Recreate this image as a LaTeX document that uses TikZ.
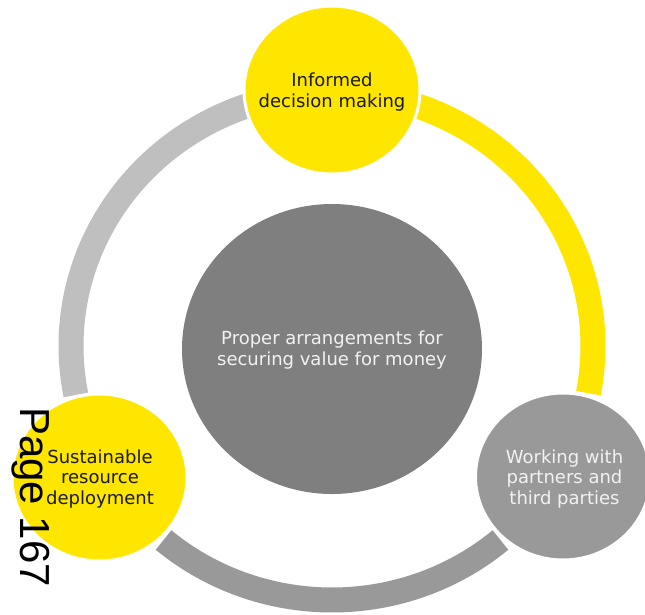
\documentclass[tikz,border=0pt]{standalone}
\usepackage{fontspec}
\setmainfont{DejaVu Sans}
\newfontfamily\pagefont{Liberation Sans}
\definecolor{eyyellow}{HTML}{FFE600}
\definecolor{lightgrey}{HTML}{BFBFBF}
\definecolor{midgrey}{HTML}{999999}
\definecolor{darkgrey}{HTML}{7F7F7F}
\definecolor{paletext}{HTML}{F2F2F2}
\definecolor{inktext}{HTML}{1A1A1A}
\tikzset{
  ringarc/.style={line width=25pt, line cap=butt},
  bubble/.style={draw=white, line width=3pt},
  label/.style={align=center, inner sep=0pt, font=\fontsize{18}{20.5}\selectfont},
}
\begin{document}
\begin{tikzpicture}[x=1pt,y=1pt]
\useasboundingbox (0,0) rectangle (645,-614);
\clip (0,0) rectangle (645,-614);
\coordinate (ring) at (332,-346);
% ring segments
\draw[ringarc, lightgrey] (ring) ++(90:261 and 254) arc[start angle=90, end angle=191.1, x radius=261, y radius=254];
\draw[ringarc, eyyellow] (ring) ++(90:261 and 254) arc[start angle=90, end angle=-10.7, x radius=261, y radius=254];
\draw[ringarc, midgrey] (ring) ++(229.8:261 and 254) arc[start angle=229.8, end angle=310.2, x radius=261, y radius=254];
% centre
\fill[darkgrey] (332,-349) ellipse [x radius=150, y radius=145];
\node[label, text=paletext] (centre) at (332,-350) {Proper arrangements for\\securing value for money};
% top
\filldraw[bubble, fill=eyyellow] (332,-90) ellipse [x radius=88, y radius=84];
\node[label, text=inktext] (top) at (332,-92) {Informed\\decision making};
% bottom left
\filldraw[bubble, fill=eyyellow] (99.5,-477.5) ellipse [x radius=87.5, y radius=83.5];
\node[label, text=inktext] (left) at (100,-479) {Sustainable\\resource\\deployment};
% bottom right
\filldraw[bubble, fill=midgrey] (563,-476.5) ellipse [x radius=87.5, y radius=83.5];
\node[label, text=paletext] (right) at (564.5,-479) {Working with\\partners and\\third parties};
% page number
\node[rotate=-90, anchor=base west, inner sep=0pt, font=\pagefont\fontsize{42}{42}\selectfont, text=black] (page) at (20,-407) {Page 167};
\end{tikzpicture}
\end{document}
